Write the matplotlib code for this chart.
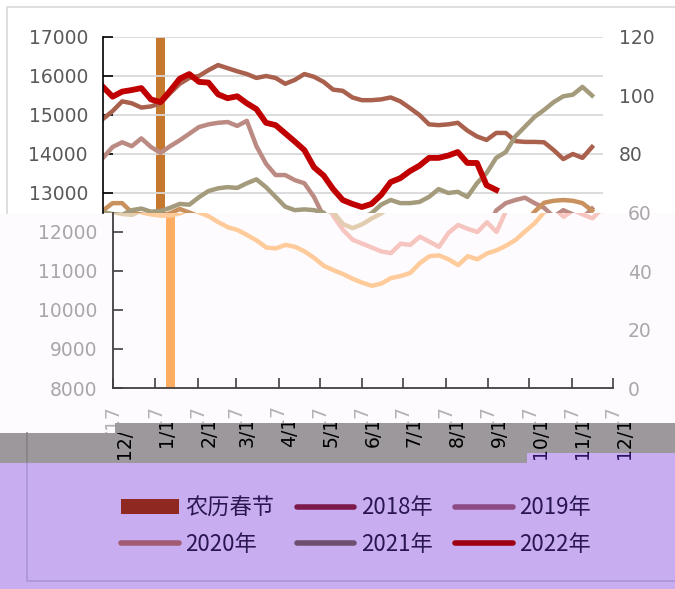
import matplotlib
matplotlib.use('Agg')
import matplotlib.pyplot as plt
import matplotlib.dates as mdates
import matplotlib.transforms as mtransforms
from matplotlib.patches import Rectangle, Polygon, Patch
from matplotlib.lines import Line2D
import pandas as pd

plt.rcParams['font.family'] = ['DejaVu Sans', 'Noto Sans CJK SC']

# weekly points on a seasonal 2017 axis (12/17 -> 12/17)
weeks = pd.date_range('2016-12-17', periods=52, freq='7D')

y2018 = [14900, 15100, 15350, 15300, 15190, 15220, 15300, 15560, 15800, 15950,
         16000, 16150, 16280, 16200, 16120, 16050, 15950, 16000, 15950, 15800,
         15900, 16050, 15980, 15850, 15650, 15620, 15450, 15380, 15380, 15400,
         15450, 15350, 15180, 15000, 14760, 14740, 14760, 14800, 14600, 14450,
         14360, 14540, 14540, 14330, 14310, 14310, 14300, 14100, 13870, 14000, 13900, 14180]
y2019 = [13900, 14180, 14300, 14200, 14400, 14180, 14030, 14200, 14350, 14520,
         14690, 14760, 14800, 14820, 14720, 14850, 14200, 13750, 13460, 13460,
         13330, 13250, 12900, 12400, 12050, 11800, 11700, 11600, 11500, 11460,
         11700, 11670, 11880, 11750, 11620, 11980, 12180, 12080, 12000, 12250,
         12000, 12550, 12740, 12820, 12880, 12740, 12620, 12390, 12560, 12450, 12350, 12600]
y2020 = [12550, 12740, 12740, 12500, 12450, 12420, 12420, 12480, 12590, 12500,
         12400, 12250, 12120, 12050, 11920, 11780, 11600, 11580, 11670, 11620,
         11500, 11330, 11130, 11020, 10920, 10800, 10700, 10620, 10680, 10820,
         10870, 10950, 11200, 11380, 11400, 11300, 11150, 11380, 11300, 11450,
         11530, 11650, 11800, 12020, 12230, 12520, 12750, 12800, 12820, 12800, 12740, 12550]
y2021 = [12510, 12460, 12440, 12560, 12600, 12520, 12540, 12620, 12720, 12700,
         12890, 13050, 13120, 13150, 13130, 13250, 13350, 13150, 12900, 12650,
         12560, 12580, 12560, 12500, 12200, 12100, 12200, 12350, 12480, 12700,
         12820, 12740, 12740, 12770, 12900, 13100, 13000, 13030, 12900, 13250,
         13510, 13900, 14050, 14450, 14700, 14950, 15130, 15330, 15480, 15520, 15720, 15500]
y2022 = [15720, 15470, 15600, 15640, 15690, 15400, 15330, 15620, 15930, 16050,
         15850, 15830, 15530, 15430, 15480, 15300, 15150, 14800, 14740, 14530,
         14320, 14100, 13660, 13450, 13100, 12820, 12720, 12640, 12720, 12950,
         13280, 13380, 13560, 13700, 13900, 13900, 13960, 14050, 13770, 13770,
         13200, 13080]

spring_festival = pd.Timestamp('2017-01-28')
spring_value = 120

month_ticks = [pd.Timestamp('2016-12-17')] + [pd.Timestamp(2017, m, 17) for m in range(1, 13)]
month_labels = ['12/17', '1/17', '2/17', '3/17', '4/17', '5/17', '6/17',
                '7/17', '8/17', '9/17', '10/17', '11/17', '12/17']

names = ['2018年', '2019年', '2020年', '2021年', '2022年']
values = [y2018, y2019, y2020, y2021, y2022]
top_colors = ['#a9604c', '#bb8b83', '#c8915d', '#a39b7b', '#c00000']
faded_colors = ['#e3a898', '#f6c5bf', '#ffcb9a', '#e3cdb0', '#ff3344']
legend_colors = ['#7b1a4b', '#8c4b85', '#a15b73', '#6f4f6f', '#9c0012']
widths = [3.2, 3.2, 3.2, 3.2, 4.2]

W, H = 675, 589
fig = plt.figure(figsize=(W / 100, H / 100), dpi=100)
fig.patch.set_facecolor('white')


def box(x0, y0, x1, y1):
    return [x0 / W, 1 - y1 / H, (x1 - x0) / W, (y1 - y0) / H]


def fpt(x, y):
    return (x / W, 1 - y / H)


def pixel_clip(x0, y0, x1, y1):
    # clip box in display pixels (y measured from the top of the picture)
    return mtransforms.Bbox.from_extents(x0, H - y1, x1, H - y0)


def draw_chart(ax, ax2, colors, bar_color):
    ax2.bar(spring_festival, spring_value, width=7, color=bar_color)
    for vals, c, lw in zip(values, colors, widths):
        ax.plot(weeks[:len(vals)], vals, color=c, lw=lw)
    for a in (ax, ax2):
        a.set_xlim(month_ticks[0], month_ticks[-1])
        a.patch.set_visible(False)
    ax.set_zorder(3)
    ax2.set_zorder(2)


# ---- upper (intact) part of the chart
ax_t = fig.add_axes(box(103, 37, 603, 213))
ax_t2 = ax_t.twinx()
draw_chart(ax_t, ax_t2, top_colors, '#c5782e')
ax_t.set_ylim(12487, 17000)
ax_t.set_yticks(range(13000, 17001, 1000))
ax_t.grid(axis='y', color='#d9d9d9', lw=1.3)
ax_t.set_xticks([])
ax_t.tick_params(axis='y', direction='in', length=7, width=1.2, color='black',
                 labelsize=13.5, labelcolor='#595959', pad=10.8)
for s in ['top', 'right', 'bottom']:
    ax_t.spines[s].set_visible(False)
ax_t.spines['left'].set_color('black')
ax_t.spines['left'].set_linewidth(1.2)
ax_t2.set_ylim(59.8, 120)
ax_t2.set_yticks([80, 100, 120])
ax_t2.tick_params(axis='y', length=0, labelsize=13.5, labelcolor='#595959', pad=11.5)
for s in ax_t2.spines.values():
    s.set_visible(False)

# ---- lower (faded, shifted) part of the chart
ax_b = fig.add_axes(box(113, 213, 613, 388))
ax_b2 = ax_b.twinx()
draw_chart(ax_b, ax_b2, faded_colors, '#ffad62')
ax_b.set_ylim(8000, 12487)
ax_b.set_yticks(range(8000, 12001, 1000))
ax_b.set_xticks(month_ticks)
ax_b.set_xticklabels([])
ax_b.tick_params(axis='both', direction='in', length=7, width=1.2, color='#404040',
                 labelsize=13.5, labelcolor='#a9a5a9', pad=11.5)
for s in ['top', 'right']:
    ax_b.spines[s].set_visible(False)
for s in ['left', 'bottom']:
    ax_b.spines[s].set_color('#404040')
    ax_b.spines[s].set_linewidth(1.3)
ax_b2.set_ylim(0, 60)
ax_b2.set_yticks([0, 20, 40, 60])
ax_b2.tick_params(axis='y', length=0, labelsize=13.5, labelcolor='#aaa6aa', pad=10.8)
for s in ax_b2.spines.values():
    s.set_visible(False)

# washed background behind the lower part
fig.add_artist(Rectangle(fpt(0, 433), 1, (433 - 213) / H, transform=fig.transFigure,
                         facecolor='#fefbfe', edgecolor='none', zorder=1))
# outer frame of the upper part
fig.add_artist(Line2D([fpt(7, 0)[0], fpt(7, 0)[0], 1], [fpt(0, 213)[1], fpt(0, 7)[1], fpt(0, 7)[1]],
                      transform=fig.transFigure, color='#d9d9d9', lw=1.2, zorder=4))

# month labels, faded part
tr_faded = mtransforms.offset_copy(ax_b.get_xaxis_transform(), fig=fig, x=0, y=-17, units='dots')
tr_dark = mtransforms.offset_copy(ax_b.get_xaxis_transform(), fig=fig, x=11, y=-17, units='dots')
for t, lab in zip(month_ticks, month_labels):
    fig.text(mdates.date2num(t), 0, lab, transform=tr_faded, rotation=90, ha='center', va='top',
             fontsize=13.5, color='#b4b0b4', zorder=4)

# grey band and purple area
band_pts = [fpt(0, 433), fpt(115, 433), fpt(115, 423), fpt(675, 423), fpt(675, 463), fpt(0, 463)]
fig.add_artist(Polygon(band_pts, closed=True, transform=fig.transFigure,
                       facecolor='#9c989b', edgecolor='none', zorder=5))
fig.add_artist(Rectangle(fpt(0, 589), 1, (589 - 463) / H, transform=fig.transFigure,
                         facecolor='#c8aef0', edgecolor='none', zorder=5.1))
fig.add_artist(Rectangle(fpt(527, 463), (675 - 527) / W, 10 / H, transform=fig.transFigure,
                         facecolor='#c8aef0', edgecolor='none', zorder=5.1))
fig.add_artist(Line2D([fpt(27, 0)[0]] * 2, [fpt(0, 433)[1], fpt(0, 463)[1]],
                      transform=fig.transFigure, color='#858185', lw=1.2, zorder=5.2))
fig.add_artist(Line2D([fpt(27, 0)[0], fpt(27, 0)[0], 1], [fpt(0, 463)[1], fpt(0, 581)[1], fpt(0, 581)[1]],
                      transform=fig.transFigure, color='#a995d6', lw=1.2, zorder=5.2))

# month labels, dark part (visible only inside the grey band)
for i, (t, lab) in enumerate(zip(month_ticks, month_labels)):
    top = 433 if i == 0 else 423
    txt = fig.text(mdates.date2num(t), 0, lab, transform=tr_dark, rotation=90, ha='center', va='top',
                   fontsize=13.5, color='black', zorder=6)
    txt.set_clip_box(pixel_clip(0, top, W, 463))
    if i >= 10:
        txt.set_clip_box(pixel_clip(0, top, W, 453))
        txt2 = fig.text(mdates.date2num(t), 0, lab, transform=tr_dark, rotation=90, ha='center',
                        va='top', fontsize=13.5, color='#2a1460', zorder=6.1)
        txt2.set_clip_box(pixel_clip(527, 453, W, 463))

# legend
h_bar = Patch(facecolor='#8f2820', edgecolor='none')
h_lines = [Line2D([], [], color=c, lw=4, solid_capstyle='round') for c in legend_colors]
handles = [h_bar, h_lines[2], h_lines[0], h_lines[3], h_lines[1], h_lines[4]]
labels = ['农历春节', names[2], names[0], names[3], names[1], names[4]]
leg = fig.legend(handles, labels, ncol=3, loc='center', bbox_to_anchor=fpt(356, 526),
                 frameon=False, prop={'family': ['Noto Sans CJK SC'], 'size': 16},
                 labelcolor='#2a1650', handlelength=2.6, handletextpad=0.3,
                 columnspacing=1.0, labelspacing=0.6)
leg.set_zorder(7)

fig.savefig('out.png', dpi=100)
